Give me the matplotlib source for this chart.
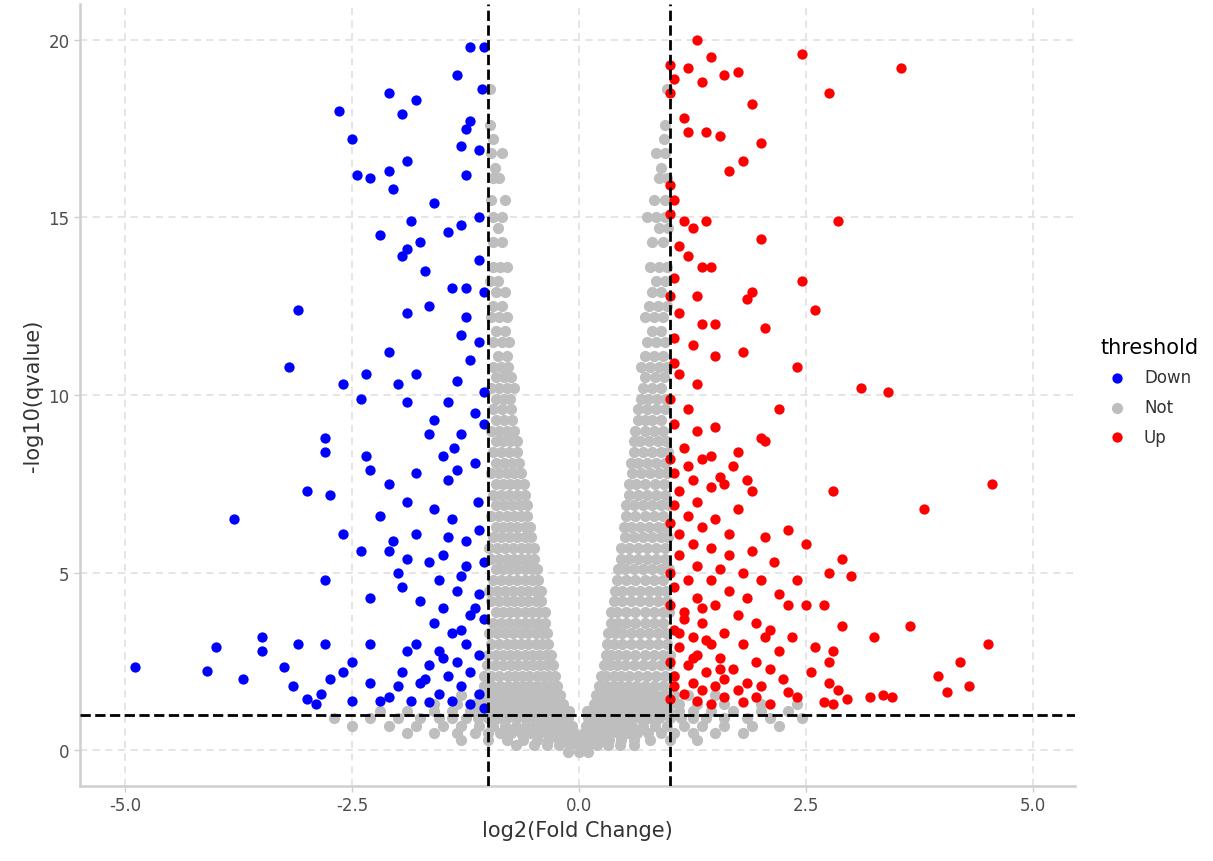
import matplotlib.pyplot as plt

# significant down-regulated points (log2FC, -log10 q)
down_x = [-1.2, -1.05, -1.35, -1.07, -2.1, -2.65, -1.95, -1.8, -1.2, -2.5, -1.25, -1.3, -1.1, -1.9,
          -2.1, -2.45, -2.3, -1.25, -2.05, -1.6, -1.1, -1.3, -1.85, -2.2, -1.45, -1.75, -1.9, -1.95,
          -1.7, -1.1, -1.25, -1.4, -1.05, -1.65, -1.25, -1.9, -3.1, -1.3, -1.1, -2.1, -1.2, -3.2,
          -2.35, -1.8, -1.35, -2.0, -2.6, -1.05, -2.4, -1.9, -1.45, -1.15, -1.6, -1.05, -1.3, -1.65,
          -2.8, -2.8, -2.35, -1.5, -1.15, -1.35, -2.3, -1.8, -2.1, -1.45, -3.0, -2.75, -1.9, -1.6,
          -2.2, -3.8, -1.4, -1.1, -2.6, -1.8, -2.05, -1.25, -2.1, -2.4, -1.5, -1.05, -1.9, -1.65,
          -2.0, -1.3, -2.8, -1.55, -1.95, -1.35, -1.1, -2.3, -1.75, -1.5, -1.2, -1.05, -1.6, -1.4,
          -3.5, -2.3, -1.8, -3.1, -2.8, -1.25, -1.55, -4.0, -3.5, -1.9, -1.1, -1.35, -2.5, -1.65,
          -4.9, -4.1, -3.25, -2.6, -1.95, -1.2, -1.45, -3.7, -2.75, -2.3, -1.75, -3.15, -2.0, -1.3,
          -2.85, -1.55, -1.1, -2.1, -3.0, -2.5, -2.2, -1.85, -1.4, -2.9, -1.65, -1.2, -1.05,
          -1.15, -1.3, -1.5, -1.7, -1.25, -1.45, -1.12, -1.38]
down_y = [19.8, 19.8, 19.0, 18.6, 18.5, 18.0, 17.9, 18.3, 17.7, 17.2, 17.5, 17.0, 16.9, 16.6,
          16.3, 16.2, 16.1, 16.2, 15.8, 15.4, 15.0, 14.8, 14.9, 14.5, 14.6, 14.3, 14.1, 13.9,
          13.5, 13.8, 13.0, 13.0, 12.9, 12.5, 12.2, 12.3, 12.4, 11.7, 11.5, 11.2, 11.0, 10.8,
          10.6, 10.6, 10.4, 10.3, 10.3, 10.1, 9.9, 9.8, 9.8, 9.5, 9.3, 9.2, 8.9, 8.9,
          8.8, 8.4, 8.3, 8.3, 8.1, 7.9, 7.9, 7.8, 7.5, 7.6, 7.3, 7.2, 7.0, 6.8,
          6.6, 6.5, 6.5, 6.2, 6.1, 6.1, 5.9, 5.9, 5.6, 5.6, 5.5, 5.3, 5.4, 5.3,
          5.0, 4.9, 4.8, 4.8, 4.6, 4.5, 4.4, 4.3, 4.2, 4.0, 3.8, 3.7, 3.6, 3.3,
          3.2, 3.0, 3.0, 3.0, 3.0, 3.0, 2.8, 2.9, 2.8, 2.8, 2.7, 2.5, 2.5, 2.4,
          2.35, 2.25, 2.35, 2.2, 2.2, 2.2, 2.1, 2.0, 2.0, 1.9, 1.9, 1.8, 1.8, 1.8,
          1.6, 1.6, 1.6, 1.5, 1.45, 1.4, 1.4, 1.4, 1.4, 1.3, 1.35, 1.3, 1.2,
          4.0, 3.4, 2.6, 2.0, 5.2, 6.0, 7.0, 8.5]

# significant up-regulated points
up_x = [1.3, 1.0, 1.2, 1.45, 1.6, 2.45, 3.55, 1.75, 1.05, 1.35, 1.0, 2.75, 1.9, 1.15, 1.4, 1.55,
        1.2, 2.0, 1.8, 1.65, 1.0, 1.05, 1.0, 1.15, 1.4, 2.85, 1.25, 2.0, 1.1, 1.2, 1.35, 1.45,
        1.05, 2.45, 1.9, 1.0, 1.3, 1.85, 2.6, 1.1, 1.35, 1.5, 2.05, 1.05, 1.25, 1.8, 1.5, 1.05,
        2.4, 1.1, 1.3, 3.1, 3.4, 1.0, 1.2, 2.2, 1.5, 1.05, 1.3, 2.0, 2.05, 1.15, 1.75, 1.0,
        1.35, 1.45, 1.2, 1.7, 1.05, 1.55, 1.25, 1.85, 1.45, 1.6, 1.1, 1.9, 2.8, 4.55, 1.3, 1.05,
        1.75, 3.8, 1.2, 1.5, 1.0, 1.35, 2.3, 1.1, 1.65, 2.05, 1.25, 1.45, 2.5, 1.9, 1.1, 1.65,
        2.9, 1.3, 2.15, 1.55, 1.0, 1.8, 2.75, 1.2, 1.45, 2.0, 2.4, 3.0, 1.05, 1.65, 2.2, 1.3,
        1.85, 1.0, 1.5, 2.3, 2.5, 2.7, 1.15, 1.75, 1.95, 1.35, 2.1, 1.05, 1.6, 2.9, 3.65, 3.25,
        1.25, 2.05, 2.35, 1.45, 1.8, 1.1, 4.5, 2.6, 1.3, 2.2, 2.8, 1.55, 1.95, 1.0, 4.2, 2.75,
        1.2, 1.7, 2.1, 1.4, 2.55, 1.05, 3.95, 2.25, 1.6, 1.85, 1.25, 2.75, 1.05, 1.5, 4.3, 2.0,
        1.35, 1.75, 2.3, 4.05, 2.85, 1.15, 3.2, 3.35, 3.45, 2.95, 2.4, 1.6, 1.95, 1.0, 1.3, 2.7,
        1.8, 2.8, 1.45, 2.1, 1.15, 1.4, 1.25, 1.55, 1.35, 1.1]
up_y = [20.0, 19.3, 19.2, 19.5, 19.0, 19.6, 19.2, 19.1, 18.9, 18.8, 18.5, 18.5, 18.2, 17.8, 17.4, 17.3,
        17.4, 17.1, 16.6, 16.3, 15.9, 15.5, 15.1, 14.9, 14.9, 14.9, 14.7, 14.4, 14.2, 13.9, 13.6, 13.6,
        13.3, 13.2, 12.9, 12.8, 12.8, 12.7, 12.4, 12.3, 12.0, 12.0, 11.9, 11.6, 11.4, 11.2, 11.1, 10.9,
        10.8, 10.6, 10.3, 10.2, 10.1, 9.9, 9.6, 9.6, 9.1, 9.2, 9.0, 8.8, 8.7, 8.5, 8.4, 8.2,
        8.2, 8.3, 8.0, 8.0, 7.8, 7.7, 7.6, 7.6, 7.4, 7.5, 7.3, 7.3, 7.3, 7.5, 7.0, 6.9,
        6.8, 6.8, 6.6, 6.5, 6.4, 6.3, 6.2, 6.1, 6.1, 6.0, 5.8, 5.7, 5.8, 5.6, 5.5, 5.5,
        5.4, 5.2, 5.3, 5.1, 5.0, 5.0, 5.0, 4.8, 4.8, 4.8, 4.8, 4.9, 4.6, 4.5, 4.4, 4.3,
        4.3, 4.1, 4.1, 4.1, 4.1, 4.1, 3.9, 3.8, 3.6, 3.6, 3.4, 3.4, 3.3, 3.5, 3.5, 3.2,
        3.2, 3.2, 3.2, 3.0, 3.0, 2.9, 3.0, 2.9, 2.7, 2.8, 2.8, 2.6, 2.5, 2.5, 2.5, 2.5,
        2.4, 2.3, 2.3, 2.2, 2.2, 2.1, 2.1, 2.0, 2.0, 1.9, 1.9, 1.9, 1.8, 1.8, 1.8, 1.8,
        1.7, 1.7, 1.65, 1.65, 1.7, 1.6, 1.5, 1.55, 1.5, 1.45, 1.5, 1.5, 1.5, 1.45, 1.4, 1.35,
        1.35, 1.3, 1.3, 1.3, 3.7, 3.1, 2.6, 2.3, 4.0, 3.3]

# non-significant points, read row by row: (y, [x values])
grey_rows = [
    (18.6, [-0.98, 0.97]), (17.6, [-0.98, 0.95]), (17.2, [-0.95, 0.93]),
    (16.8, [-0.97, -0.85, 0.85, 0.95]), (16.4, [-0.93, 0.9]),
    (16.1, [-0.95, -0.88, 0.88, 0.97]), (15.5, [-0.97, -0.82, 0.82, 0.95]),
    (15.0, [-0.95, -0.85, 0.75, 0.85, 0.95]), (14.7, [-0.9, 0.88, 0.98]),
    (14.3, [-0.95, -0.85, 0.8, 0.92]),
    (13.6, [-0.95, -0.87, -0.8, 0.78, 0.88, 0.97]), (13.2, [-0.98, -0.9, 0.85, 0.95]),
    (12.9, [-0.92, -0.82, 0.8, 0.9]), (12.5, [-0.95, -0.85, 0.77, 0.87, 0.97]),
    (12.2, [-0.97, -0.88, -0.8, 0.72, 0.82, 0.92]), (11.8, [-0.92, -0.82, 0.8, 0.9]),
    (11.5, [-0.95, -0.85, -0.77, 0.75, 0.85, 0.95]), (11.1, [-0.9, -0.8, 0.72, 0.82, 0.92]),
    (10.8, [-0.95, -0.86, -0.78, 0.68, 0.78, 0.88, 0.97]),
    (10.5, [-0.92, -0.83, -0.75, 0.73, 0.83, 0.93]),
    (10.2, [-0.97, -0.88, -0.8, -0.72, 0.7, 0.8, 0.9]),
    (9.9, [-0.92, -0.83, -0.76, 0.68, 0.76, 0.86, 0.96]),
    (9.6, [-0.95, -0.85, -0.75, 0.65, 0.75, 0.85, 0.95]),
    (9.3, [-0.92, -0.83, -0.74, 0.65, 0.72, 0.8, 0.9]),
    (9.0, [-0.97, -0.88, -0.8, -0.72, 0.62, 0.72, 0.82, 0.92]),
    (8.7, [-0.92, -0.84, -0.76, -0.69, 0.6, 0.67, 0.77, 0.87, 0.96]),
    (8.4, [-0.95, -0.86, -0.77, -0.68, 0.6, 0.7, 0.8, 0.9, 0.98]),
    (8.1, [-0.92, -0.83, -0.74, -0.66, 0.57, 0.65, 0.75, 0.85, 0.95]),
    (7.8, [-0.97, -0.88, -0.8, -0.72, -0.64, 0.58, 0.68, 0.78, 0.88, 0.97]),
    (7.5, [-0.92, -0.84, -0.76, -0.68, -0.61, 0.55, 0.63, 0.73, 0.83, 0.93]),
    (7.2, [-0.95, -0.86, -0.77, -0.68, -0.6, 0.55, 0.65, 0.75, 0.85, 0.95]),
    (6.9, [-0.92, -0.83, -0.74, -0.65, -0.58, 0.52, 0.6, 0.7, 0.8, 0.9, 0.99]),
    (6.6, [-0.97, -0.88, -0.8, -0.72, -0.64, -0.57, 0.52, 0.62, 0.72, 0.82, 0.92]),
    (6.3, [-0.92, -0.84, -0.76, -0.68, -0.6, -0.54, 0.49, 0.57, 0.67, 0.77, 0.87, 0.96]),
    (6.0, [-0.95, -0.86, -0.77, -0.68, -0.6, -0.53, 0.5, 0.6, 0.7, 0.8, 0.9, 0.98]),
    (5.7, [-0.99, -0.91, -0.82, -0.73, -0.64, -0.56, -0.5, 0.46, 0.55, 0.65, 0.75, 0.85, 0.95]),
    (5.4, [-0.97, -0.88, -0.8, -0.72, -0.64, -0.56, -0.5, 0.46, 0.55, 0.65, 0.75, 0.85, 0.95]),
    (5.1, [-0.92, -0.84, -0.76, -0.68, -0.6, -0.52, -0.46, 0.43, 0.5, 0.6, 0.7, 0.8, 0.9, 0.99]),
    (4.8, [-0.95, -0.86, -0.77, -0.68, -0.6, -0.52, -0.45, 0.42, 0.52, 0.62, 0.72, 0.82, 0.92]),
    (4.5, [-0.99, -0.91, -0.82, -0.73, -0.64, -0.56, -0.48, -0.42,
           0.39, 0.47, 0.57, 0.67, 0.77, 0.87, 0.96]),
    (4.2, [-0.97, -0.88, -0.8, -0.72, -0.64, -0.56, -0.48, -0.42,
           0.38, 0.47, 0.57, 0.67, 0.77, 0.87, 0.97]),
    (3.9, [-0.92, -0.84, -0.76, -0.68, -0.6, -0.52, -0.44, -0.38,
           0.35, 0.42, 0.52, 0.62, 0.72, 0.82, 0.92, 0.99]),
    (3.6, [-0.95, -0.86, -0.77, -0.68, -0.6, -0.52, -0.45, -0.38,
           0.35, 0.43, 0.52, 0.62, 0.72, 0.82, 0.92]),
    (3.3, [-0.99, -0.91, -0.82, -0.73, -0.64, -0.56, -0.48, -0.41, -0.35,
           0.32, 0.39, 0.47, 0.57, 0.67, 0.77, 0.87, 0.96]),
    (3.0, [-0.97, -0.88, -0.8, -0.72, -0.64, -0.56, -0.48, -0.41, -0.34,
           0.31, 0.38, 0.47, 0.57, 0.67, 0.77, 0.87, 0.97]),
    (2.7, [-1.0, -0.92, -0.84, -0.76, -0.68, -0.6, -0.52, -0.44, -0.37, -0.31,
           0.29, 0.35, 0.43, 0.52, 0.62, 0.72, 0.82, 0.92, 1.0]),
    (2.4, [-1.02, -0.93, -0.84, -0.75, -0.67, -0.59, -0.51, -0.43, -0.36, -0.29,
           0.27, 0.34, 0.42, 0.51, 0.6, 0.7, 0.8, 0.9, 0.99]),
    (2.1, [-1.05, -0.97, -0.88, -0.79, -0.71, -0.63, -0.55, -0.47, -0.4, -0.33, -0.27,
           0.24, 0.3, 0.38, 0.46, 0.55, 0.65, 0.75, 0.85, 0.95, 1.04]),
    (1.8, [-1.05, -0.96, -0.87, -0.78, -0.7, -0.62, -0.54, -0.46, -0.39, -0.32, -0.25,
           0.22, 0.29, 0.37, 0.45, 0.54, 0.63, 0.72, 0.82, 0.92, 1.02]),
    (1.55, [-1.3, -1.1, -1.0, -0.91, -0.82, -0.73, -0.65, -0.57, -0.49, -0.41, -0.34, -0.27,
            -0.21, 0.19, 0.25, 0.33, 0.41, 0.49, 0.58, 0.67, 0.76, 0.85, 0.95, 1.05, 1.2, 1.5]),
    (1.3, [-1.6, -1.35, -1.15, -1.05, -0.95, -0.86, -0.77, -0.69, -0.61, -0.53, -0.45, -0.38,
           -0.31, -0.24, -0.18, 0.16, 0.22, 0.29, 0.37, 0.45, 0.53, 0.62, 0.71, 0.8, 0.9,
           1.0, 1.1, 1.3, 1.6, 2.0, 2.4]),
    (1.1, [-2.2, -1.9, -1.6, -1.4, -1.2, -1.08, -0.98, -0.88, -0.78, -0.68, -0.58, -0.48, -0.4,
           -0.32, -0.24, -0.17, -0.11, 0.09, 0.15, 0.22, 0.3, 0.38, 0.47, 0.56, 0.66, 0.76,
           0.87, 0.98, 1.1, 1.25, 1.45, 1.7, 2.0, 2.3]),
    (0.9, [-2.7, -2.3, -2.0, -1.75, -1.55, -1.4, -1.25, -1.12, -1.0, -0.9, -0.8, -0.7, -0.6,
           -0.5, -0.41, -0.33, -0.25, -0.18, -0.12, 0.1, 0.16, 0.23, 0.31, 0.39, 0.48, 0.57,
           0.67, 0.77, 0.88, 1.0, 1.12, 1.25, 1.4, 1.6, 1.85, 2.1, 2.45]),
    (0.7, [-2.5, -2.1, -1.8, -1.5, -1.3, -1.1, -0.95, -0.82, -0.7, -0.59, -0.49, -0.4, -0.31,
           -0.23, -0.15, -0.08, 0.07, 0.14, 0.22, 0.3, 0.39, 0.48, 0.58, 0.7, 0.83, 0.97,
           1.15, 1.35, 1.6, 1.9, 2.2]),
    (0.5, [-1.9, -1.6, -1.35, -1.15, -1.0, -0.87, -0.75, -0.64, -0.54, -0.44, -0.35, -0.27,
           -0.19, -0.12, -0.06, 0.05, 0.11, 0.18, 0.26, 0.34, 0.43, 0.53, 0.64, 0.76, 0.9,
           1.05, 1.25, 1.5, 1.8]),
    (0.3, [-1.3, -1.0, -0.8, -0.62, -0.47, -0.34, -0.22, -0.12, -0.04, 0.04, 0.12, 0.22,
           0.33, 0.46, 0.6, 0.78, 1.0, 1.3]),
    (0.15, [-0.7, -0.5, -0.35, -0.22, -0.1, 0.0, 0.1, 0.2, 0.32, 0.45, 0.6]),
    (-0.05, [-0.12, 0.0, 0.1]),
]
grey_x = [x for y, xs in grey_rows for x in xs]
grey_y = [y for y, xs in grey_rows for x in xs]

fig = plt.figure(figsize=(12.13, 8.62), dpi=100)
ax = fig.add_axes([0.066, 0.087, 0.82, 0.907])

ax.scatter(grey_x, grey_y, s=65, color="#bebebe", label="Not", zorder=2, linewidths=0)
ax.scatter(down_x, down_y, s=55, color="#0000ff", label="Down", zorder=3, linewidths=0)
ax.scatter(up_x, up_y, s=55, color="#ff0000", label="Up", zorder=3, linewidths=0)

ax.axvline(-1, color="black", ls="--", lw=2, zorder=4)
ax.axvline(1, color="black", ls="--", lw=2, zorder=4)
ax.axhline(1, color="black", ls="--", lw=2, zorder=4)

ax.set_xlim(-5.5, 5.46)
ax.set_ylim(-1, 21)
ax.set_xticks([-5, -2.5, 0, 2.5, 5])
ax.set_xticklabels(["-5.0", "-2.5", "0.0", "2.5", "5.0"])
ax.set_yticks([0, 5, 10, 15, 20])
ax.grid(True, color="#e3e3e3", ls=(0, (4, 3)), lw=1.3, zorder=0)
ax.set_axisbelow(True)
for s in ["top", "right"]:
    ax.spines[s].set_visible(False)
for s in ["left", "bottom"]:
    ax.spines[s].set_color("#cfcfcf")
    ax.spines[s].set_linewidth(1.8)
ax.tick_params(colors="#4d4d4d", labelsize=12, length=4, width=1)
ax.tick_params(axis="both", color="#cfcfcf")
ax.set_xlabel("log2(Fold Change)", fontsize=15, color="#333333")
ax.set_ylabel("-log10(qvalue)", fontsize=15, color="#333333")

handles, labels = ax.get_legend_handles_labels()
order = [labels.index(n) for n in ["Down", "Not", "Up"]]
leg = fig.legend([handles[i] for i in order], [labels[i] for i in order],
                 title="threshold", loc="center left", bbox_to_anchor=(0.895, 0.545),
                 frameon=False, fontsize=12, title_fontsize=15, handletextpad=0.6,
                 labelspacing=0.7)
leg._legend_box.align = "left"
for t in leg.get_texts():
    t.set_color("#333333")

fig.savefig("out.png", dpi=100)
